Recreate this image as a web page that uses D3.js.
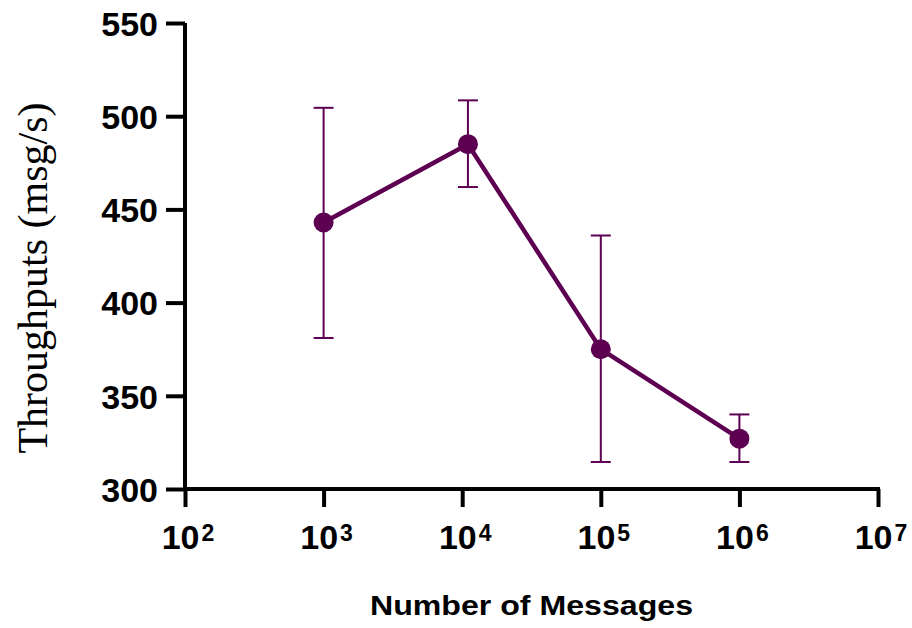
<!DOCTYPE html>
<html lang="en">
<head>
  <meta charset="UTF-8">
  <title>Throughput vs Number of Messages</title>
  <script src="https://d3js.org/d3.v7.min.js"></script>
  <style>
    body { margin: 0; background: #fff; }
    svg { display: block; }
  </style>
</head>
<body>
  <svg width="912" height="628"></svg>

  <script>
    // data
    const messages = [1000, 11000, 100000, 1000000];
    const throughput = [443, 485, 375, 327];
    const errLow = [381, 462, 314.5, 314.5];
    const errHigh = [504.5, 508.5, 436, 340];
    const xTicks = [2, 3, 4, 5, 6, 7];
    const yTicks = [300, 350, 400, 450, 500, 550];

    const color = "#5e0052";
    const svg = d3.select("svg");

    const x = d3.scaleLog().domain([1e2, 1e7]).range([185, 878]);
    const y = d3.scaleLinear().domain([300, 550]).range([489, 23]);

    // Y axis
    const yAxis = svg.append("g")
      .attr("transform", "translate(185,0)")
      .call(d3.axisLeft(y).tickValues(yTicks).tickSize(19).tickPadding(8));
    yAxis.select(".domain").attr("stroke-width", 4).attr("d", `M0,${y(550)}V${y(300) + 2}`);
    yAxis.selectAll(".tick line").attr("stroke-width", 4);
    yAxis.selectAll(".tick text")
      .attr("font-family", "Liberation Sans, Arial, sans-serif")
      .attr("font-weight", "bold")
      .attr("font-size", 34)
      .attr("dy", "0.36em");

    // X axis
    const xAxis = svg.append("g")
      .attr("transform", `translate(0,${y(300)})`)
      .call(d3.axisBottom(x).tickValues(xTicks.map(e => Math.pow(10, e))).tickSize(18).tickFormat(""));
    xAxis.select(".domain").attr("stroke-width", 4).attr("d", `M${x(1e2) - 2},0H${x(1e7) + 2}`);
    xAxis.selectAll(".tick line").attr("stroke-width", 4);

    // x tick labels as 10 with superscript
    const xl = svg.append("g")
      .attr("font-family", "Liberation Sans, Arial, sans-serif")
      .attr("font-weight", "bold")
      .selectAll("text")
      .data(xTicks)
      .join("text")
      .attr("x", d => x(Math.pow(10, d)) + 3)
      .attr("y", 549)
      .attr("text-anchor", "middle");
    xl.append("tspan").attr("font-size", 34).text("10");
    xl.append("tspan").attr("font-size", 23).attr("dy", -8).attr("dx", 2).text(d => d);

    // axis titles
    svg.append("text")
      .attr("transform", "translate(47,278) rotate(-90)")
      .attr("text-anchor", "middle")
      .attr("font-family", "Liberation Serif, Times New Roman, serif")
      .attr("font-size", 42)
      .text("Throughputs (msg/s)");

    svg.append("text")
      .attr("x", 370)
      .attr("y", 615)
      .attr("font-family", "Liberation Sans, Arial, sans-serif")
      .attr("font-weight", "bold")
      .attr("font-size", 27)
      .attr("textLength", 323)
      .attr("lengthAdjust", "spacingAndGlyphs")
      .text("Number of Messages");

    const pts = messages.map((m, i) => ({ m, v: throughput[i], lo: errLow[i], hi: errHigh[i] }));

    // error bars
    const eb = svg.append("g").attr("stroke", color).attr("stroke-width", 2);
    eb.selectAll("line.v").data(pts).join("line")
      .attr("x1", d => x(d.m)).attr("x2", d => x(d.m))
      .attr("y1", d => y(d.lo)).attr("y2", d => y(d.hi));
    eb.selectAll("line.t").data(pts).join("line")
      .attr("x1", d => x(d.m) - 10).attr("x2", d => x(d.m) + 10)
      .attr("y1", d => y(d.hi)).attr("y2", d => y(d.hi));
    eb.selectAll("line.b").data(pts).join("line")
      .attr("x1", d => x(d.m) - 10).attr("x2", d => x(d.m) + 10)
      .attr("y1", d => y(d.lo)).attr("y2", d => y(d.lo));

    // line
    svg.append("path")
      .datum(pts)
      .attr("fill", "none")
      .attr("stroke", color)
      .attr("stroke-width", 4.5)
      .attr("d", d3.line().x(d => x(d.m)).y(d => y(d.v)));

    // markers
    svg.append("g").selectAll("circle").data(pts).join("circle")
      .attr("cx", d => x(d.m))
      .attr("cy", d => y(d.v))
      .attr("r", 10)
      .attr("fill", color);
  </script>
</body>
</html>
